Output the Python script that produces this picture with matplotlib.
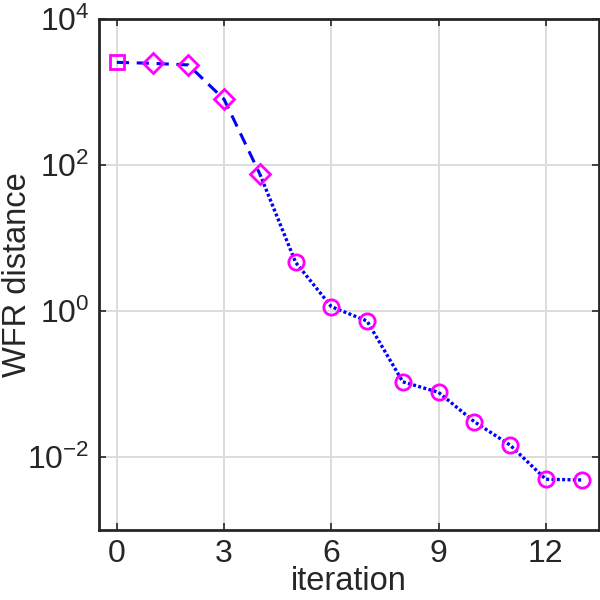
import matplotlib
matplotlib.use("Agg")
import matplotlib.pyplot as plt
import numpy as np

plt.rcParams['font.family'] = ['Liberation Sans', 'DejaVu Sans']
plt.rcParams['mathtext.fontset'] = 'custom'
plt.rcParams['mathtext.rm'] = 'Liberation Sans'
plt.rcParams['mathtext.it'] = 'Liberation Sans:italic'

# WFR distance per iteration
iters_a = [0, 1, 2, 3, 4]
wfr_a = [2560, 2480, 2360, 796, 75.2]
iters_b = [4, 5, 6, 7, 8, 9, 10, 11, 12, 13]
wfr_b = [75.2, 4.62, 1.14, 0.724, 0.106, 0.0762, 0.0301, 0.0144, 0.00489, 0.00478]

xticks = [0, 3, 6, 9, 12]
yticks = [1e-2, 1e0, 1e2, 1e4]
ytick_labels = [r'$10^{-2}$', r'$10^{0}$', r'$10^{2}$', r'$10^{4}$']

txt = '#262626'
fig = plt.figure(figsize=(6, 6), dpi=100)
ax = fig.add_axes([0.165, 0.1175, 0.834, 0.8505])

ax.plot(iters_a, wfr_a, '--', color='blue', lw=2.2, dashes=(4, 2.5), zorder=3)
ax.plot(iters_b, wfr_b, color='blue', lw=2.4, dashes=(0.9, 0.7), zorder=3)
ax.plot(iters_a[:1], wfr_a[:1], 's', mfc='none', mec='magenta', ms=9.5, mew=2, zorder=4)
ax.plot(iters_a[1:], wfr_a[1:], 'D', mfc='none', mec='magenta', ms=10.5, mew=2, zorder=4)
ax.plot(iters_b[1:], wfr_b[1:], 'o', mfc='none', mec='magenta', ms=11, mew=2, zorder=4)

ax.set_yscale('log')
ax.set_xlim(-0.5, 13.5)
ax.set_ylim(1e-3, 1e4)
ax.set_xticks(xticks)
ax.set_yticks(yticks)
ax.set_yticklabels(ytick_labels)
ax.yaxis.set_minor_locator(matplotlib.ticker.NullLocator())

ax.grid(True, color='#dcdcdc', lw=1.4)
ax.set_axisbelow(True)
ax.tick_params(direction='in', length=5, width=1.2, top=True, right=True,
               labelsize=23, colors=txt, pad=7)
for s in ax.spines.values():
    s.set_linewidth(2)
    s.set_color(txt)

ax.set_xlabel('iteration', fontsize=23.5, color=txt, labelpad=-2)
ax.set_ylabel('WFR distance', fontsize=23.5, color=txt)
ax.yaxis.set_label_coords(-0.165 + 17 / 500.4, 0.5)

fig.savefig('out.png', dpi=100)
